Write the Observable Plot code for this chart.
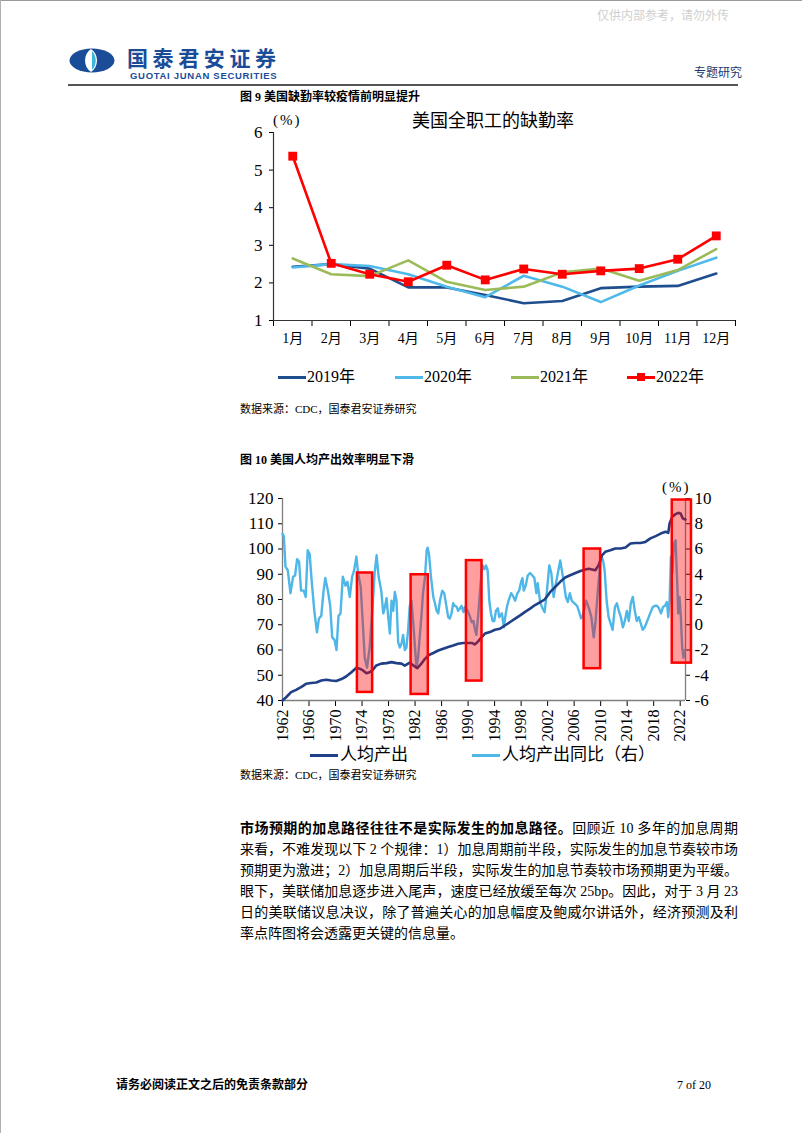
<!DOCTYPE html>
<html><head><meta charset="utf-8">
<script src="https://cdn.jsdelivr.net/npm/d3@7"></script>
<script src="https://cdn.jsdelivr.net/npm/@observablehq/plot@0.6"></script>
<style>
body{margin:0;background:#fff;}
#page{position:relative;width:802px;height:1133px;overflow:hidden;background:#fff;font-family:"Liberation Serif","Noto Sans CJK SC",serif;color:#000;}
.abs{position:absolute;white-space:nowrap;line-height:1;}
.cjk{font-family:"Liberation Serif","Noto Sans CJK SC",sans-serif;}
.sw{position:absolute;height:3px;}
.pl{position:absolute;left:240px;width:498px;font-size:14px;line-height:1;text-align:justify;text-align-last:justify;white-space:nowrap;}
#chart1,#chart2{position:absolute;left:0;}
#chart1{top:105px;} #chart2{top:480px;}
</style></head>
<body><div id="page">
<div style="position:absolute;left:0;top:0;width:802px;height:1px;background:#9a9a9a"></div>
<div style="position:absolute;left:0;top:0;width:1px;height:1133px;background:#b0b0b0"></div>
<div class="abs" style="left:597px;top:10px;font-size:12px;color:#cfcfcf;">仅供内部参考，请勿外传</div>
<svg style="position:absolute;left:69px;top:48px" width="46" height="25" viewBox="0 0 46 25">
  <ellipse cx="23" cy="12.5" rx="22.5" ry="12" fill="#1b4c98"/>
  <path d="M22 1 C 14 6, 14 19, 22 24 C 30 19, 30 6, 22 1 Z" fill="#fff"/>
  <path d="M23 3 C 28 8, 28 17, 23 22 Z" fill="#3fb4dc"/>
</svg>
<div class="abs" style="left:127px;top:47px;font-size:21px;font-weight:bold;color:#1b4c98;font-family:'Noto Sans CJK SC';letter-spacing:4.6px;">国泰君安证券</div>
<div class="abs" style="left:130px;top:71px;font-size:9.5px;font-weight:bold;color:#1b4c98;font-family:'Liberation Sans','DejaVu Sans';letter-spacing:0.7px;">GUOTAI JUNAN SECURITIES</div>
<div class="abs" style="left:694px;top:66px;font-size:12px;color:#1b3a6e;font-family:'Noto Sans CJK SC';">专题研究</div>
<div style="position:absolute;left:68px;top:84px;width:670px;height:2px;background:#555;"></div>
<div class="abs cjk" style="left:240px;top:91px;font-size:12px;font-weight:bold;">图 9 美国缺勤率较疫情前明显提升</div>
<div class="abs cjk" style="left:412px;top:112px;font-size:18px;">美国全职工的缺勤率</div>
<div class="abs" style="left:273px;top:113px;font-size:15px;letter-spacing:2px;">(%)</div>
<div id="chart1"></div>
<div id="legend1"></div>
<div class="abs cjk" style="left:240px;top:404px;font-size:11px;">数据来源：CDC，国泰君安证券研究</div>
<div class="abs cjk" style="left:240px;top:454px;font-size:12px;font-weight:bold;">图 10 美国人均产出效率明显下滑</div>
<div class="abs" style="left:662px;top:480px;font-size:15px;letter-spacing:2px;">(%)</div>
<div id="chart2"></div>
<div id="legend2"></div>
<div class="abs cjk" style="left:240px;top:770px;font-size:11px;">数据来源：CDC，国泰君安证券研究</div>
<div class="pl cjk" style="top:822px;"><b>市场预期的加息路径往往不是实际发生的加息路径。</b>回顾近 10 多年的加息周期</div>
<div class="pl cjk" style="top:843px;">来看，不难发现以下 2 个规律：1）加息周期前半段，实际发生的加息节奏较市场</div>
<div class="pl cjk" style="top:864px;">预期更为激进；2）加息周期后半段，实际发生的加息节奏较市场预期更为平缓。</div>
<div class="pl cjk" style="top:885px;">眼下，美联储加息逐步进入尾声，速度已经放缓至每次 25bp。因此，对于 3 月 23</div>
<div class="pl cjk" style="top:906px;">日的美联储议息决议，除了普遍关心的加息幅度及鲍威尔讲话外，经济预测及利</div>
<div class="pl cjk" style="top:927px;text-align-last:left;">率点阵图将会透露更关键的信息量。</div>
<div class="abs cjk" style="left:116px;top:1079px;font-size:12px;font-weight:bold;">请务必阅读正文之后的免责条款部分</div>
<div class="abs" style="left:677px;top:1079px;font-size:12px;">7 of 20</div>
</div>
<script>
// ---------- Chart 1 data ----------
const months = ["1月","2月","3月","4月","5月","6月","7月","8月","9月","10月","11月","12月"];
const seriesNames = ["2019年","2020年","2021年","2022年"];
const absence2019 = [2.43,2.50,2.38,1.88,1.88,1.68,1.46,1.52,1.86,1.90,1.92,2.25];
const absence2020 = [2.41,2.50,2.45,2.23,1.90,1.62,2.19,1.90,1.49,1.93,2.32,2.67];
const absence2021 = [2.65,2.23,2.18,2.60,2.03,1.81,1.90,2.28,2.38,2.06,2.34,2.90];
const absence2022 = [5.37,2.52,2.23,2.03,2.47,2.08,2.37,2.23,2.32,2.38,2.63,3.25];
const yTicks1 = [1,2,3,4,5,6];

// ---------- Chart 2 data ----------
const outputYears = [1962.0,1962.55,1963.3,1964.05,1964.8,1965.55,1966.3,1967.1,1967.85,1968.6,1969.35,1970.1,1970.9,1971.6,1972.4,1973.15,1973.65,1974.15,1974.65,1975.15,1975.65,1976.15,1976.9,1977.7,1978.45,1979.2,1979.95,1980.45,1981.2,1981.95,1982.35,1982.95,1983.5,1984.0,1984.75,1985.5,1986.25,1987.0,1987.75,1988.5,1989.3,1989.8,1990.55,1991.05,1991.55,1992.05,1992.55,1993.3,1994.05,1994.8,1995.6,1996.35,1997.1,1997.85,1998.6,1999.35,2000.1,2000.9,2001.55,2002.4,2003.15,2003.9,2004.65,2005.4,2006.2,2006.95,2007.7,2008.2,2008.7,2009.2,2009.7,2010.2,2010.7,2011.45,2012.2,2013.0,2013.75,2014.5,2015.25,2016.0,2016.75,2017.5,2018.3,2019.05,2019.8,2020.2,2020.4,2020.8,2021.3,2021.7,2022.05,2022.4,2022.8];
const outputValues = [40.0,41.3,43.3,44.2,45.3,46.6,46.9,47.1,47.9,48.2,47.9,47.7,48.5,49.5,51.2,53.0,52.6,51.9,50.8,51.2,52.2,53.9,54.6,54.8,55.2,54.8,54.6,53.8,55.0,53.5,52.8,54.6,56.5,57.9,58.8,59.8,60.5,61.2,61.8,62.5,62.8,62.8,62.8,62.2,63.5,65.1,66.5,67.1,68.0,68.4,69.8,71.1,72.4,73.7,75.1,76.4,77.8,79.0,80.0,83.0,85.0,87.0,88.7,89.6,90.5,91.3,91.9,92.2,91.9,91.6,93.6,97.5,98.9,99.5,100.2,100.2,100.6,102.2,102.4,102.4,102.8,104.2,105.1,106.1,106.8,106.4,110.1,112.8,113.8,114.3,114.1,112.1,111.7];
const yoyYears = [1962.0,1962.2,1962.45,1962.8,1963.2,1963.6,1963.9,1964.2,1964.5,1964.8,1965.2,1965.5,1965.8,1966.1,1966.4,1966.8,1967.2,1967.5,1967.85,1968.2,1968.45,1968.85,1969.2,1969.5,1969.85,1970.15,1970.45,1970.75,1971.1,1971.5,1971.8,1972.15,1972.5,1972.8,1973.15,1973.4,1973.8,1974.15,1974.4,1974.75,1975.15,1975.65,1975.9,1976.2,1976.5,1976.9,1977.2,1977.45,1977.7,1977.95,1978.2,1978.45,1978.7,1978.95,1979.2,1979.45,1979.7,1979.95,1980.2,1980.45,1980.7,1980.95,1981.2,1981.45,1981.7,1981.95,1982.2,1982.45,1982.7,1982.95,1983.2,1983.5,1983.75,1983.9,1984.1,1984.4,1984.75,1985.0,1985.25,1985.5,1985.75,1986.1,1986.4,1986.75,1987.0,1987.25,1987.5,1987.75,1988.0,1988.3,1988.5,1988.8,1989.0,1989.3,1989.5,1989.95,1990.3,1990.55,1990.8,1991.05,1991.25,1991.55,1991.8,1992.05,1992.2,1992.45,1992.7,1992.95,1993.2,1993.45,1993.7,1993.95,1994.2,1994.5,1994.7,1995.1,1995.4,1995.6,1995.85,1996.1,1996.5,1996.85,1997.1,1997.45,1997.7,1998.0,1998.2,1998.4,1998.7,1999.0,1999.35,1999.7,2000.0,2000.3,2000.5,2000.9,2001.25,2001.55,2001.9,2002.25,2002.55,2002.9,2003.15,2003.55,2003.9,2004.15,2004.4,2004.75,2005.05,2005.35,2005.65,2006.05,2006.45,2006.7,2007.05,2007.3,2007.8,2008.1,2008.35,2008.6,2008.95,2009.2,2009.5,2009.8,2010.05,2010.35,2010.6,2010.9,2011.2,2011.5,2011.8,2012.15,2012.45,2012.75,2013.05,2013.35,2013.65,2013.95,2014.25,2014.55,2014.85,2015.15,2015.45,2015.75,2016.05,2016.35,2016.65,2016.95,2017.25,2017.55,2017.85,2018.2,2018.5,2018.8,2019.1,2019.4,2019.7,2020.0,2020.2,2020.4,2020.6,2020.8,2021.05,2021.3,2021.55,2021.7,2021.9,2022.1,2022.3,2022.5,2022.7];
const yoyValues = [7.2,7.0,4.6,4.3,2.5,3.8,3.9,5.2,5.0,2.7,2.7,2.2,5.9,5.6,3.5,1.1,-0.6,0.5,0.7,2.7,3.7,2.7,1.5,-1.0,-1.2,-2.0,0.7,0.9,3.8,3.1,3.4,2.2,3.8,4.3,5.4,4.1,3.0,-0.2,-2.6,-3.4,-1.8,1.9,4.1,5.5,3.8,2.7,0.9,1.4,2.1,0.6,-0.7,1.9,1.1,2.6,1.9,-1.4,-1.8,-1.5,-0.8,-2.0,-1.8,-0.4,1.5,1.9,0.3,-1.5,-3.4,-2.6,-1.0,0.6,2.5,3.8,5.9,6.1,5.6,3.8,2.2,1.7,1.1,0.9,1.9,2.7,2.5,1.4,0.6,0.5,0.9,1.7,1.5,1.4,1.1,1.3,1.5,1.0,1.4,1.1,0.6,0.2,0.3,-0.4,-0.8,0.9,2.7,4.3,4.7,4.4,4.7,4.3,1.9,0.9,0.3,0.3,1.1,1.3,0.6,0.9,-0.2,0.6,1.4,1.9,2.5,2.2,1.9,2.5,2.7,3.4,3.7,2.7,3.1,3.9,4.1,3.9,3.7,2.5,3.3,1.7,1.3,1.0,2.7,4.7,4.1,2.2,3.0,4.1,5.1,4.3,3.5,2.2,1.8,2.5,1.9,1.7,1.5,1.1,0.5,0.7,1.9,1.5,1.1,0.6,-1.0,0.1,2.2,4.1,5.5,5.1,4.3,1.9,0.6,0.1,-0.4,1.4,1.7,1.1,0.6,-0.2,0.3,1.1,0.3,1.7,2.2,1.1,0.3,0.6,0.1,-0.4,-0.2,0.2,0.6,1.0,1.4,1.5,1.5,1.3,0.9,1.4,1.5,1.8,0.6,1.9,5.4,4.1,6.4,6.7,3.3,0.9,2.2,0.6,-1.8,-2.6,-2.0];
const highlightStart = [1973.3,1981.4,1989.75,2007.5,2020.8];
const highlightEnd   = [1975.6,1984.0,1992.1,2010.0,2023.7];
const highlightHigh  = [90.5,89.8,95.4,100.0,119.4];
const highlightLow   = [43.2,42.4,47.7,52.6,54.8];
const leftTicks = [40,50,60,70,80,90,100,110,120];
const rightTicks = [-6,-4,-2,0,2,4,6,8,10];
const yearTicks = [1962,1966,1970,1974,1978,1982,1986,1990,1994,1998,2002,2006,2010,2014,2018,2022];
const seriesNames2 = ["人均产出","人均产出同比（右）"];

// ---------- styles ----------
const colors1 = {"2019年":"#1f4e8f","2020年":"#4fb9ea","2021年":"#9bbb59","2022年":"#ff0000"};
const colors2 = ["#1f3f87","#4fb6e8"];

// Chart 1
const absenceAll = [absence2019, absence2020, absence2021, absence2022];
const lineMarks1 = seriesNames.map((name, k) =>
  Plot.line(absenceAll[k].map((v, i) => ({m: i + 1, v})), {x: "m", y: "v", stroke: colors1[name], strokeWidth: 2.6})
);
const chart1 = Plot.plot({
  width: 802, height: 250,
  marginLeft: 273, marginRight: 67, marginTop: 27, marginBottom: 35,
  x: {domain: [0.5, 12.5]},
  y: {domain: [1, 6]},
  style: {fontFamily: "Liberation Serif, 'Noto Sans CJK SC'", fontSize: "16px", color: "#000", background: "transparent", overflow: "visible"},
  marks: [
    Plot.axisY({ticks: yTicks1, tickSize: 4, tickPadding: 7, tickFormat: d => String(d), label: null, fontSize: 17}),
    Plot.axisX({ticks: d3.range(0.5, 12.6, 1), tickSize: 6, tickFormat: () => "", label: null}),
    Plot.axisX({ticks: d3.range(1, 13), tickSize: 0, tickPadding: 13, tickFormat: i => months[i - 1], label: null, fontSize: 14}),
    Plot.ruleX([0.5], {stroke: "#333", strokeWidth: 1.2}),
    Plot.ruleY([1], {stroke: "#333", strokeWidth: 1.2}),
    ...lineMarks1,
    Plot.dot(absence2022.map((v, i) => ({m: i + 1, v})), {x: "m", y: "v", symbol: "square", r: 5, fill: colors1["2022年"], stroke: "none"})
  ]
});
document.getElementById("chart1").appendChild(chart1);

// Legend 1
const leg1 = document.getElementById("legend1");
const leg1X = [278, 395, 511, 627];
seriesNames.forEach((name, k) => {
  const x = leg1X[k];
  const sw = document.createElement("div");
  sw.className = "sw"; sw.style.left = x + "px"; sw.style.top = "376px"; sw.style.width = "28px"; sw.style.background = colors1[name];
  leg1.appendChild(sw);
  if (name === "2022年") {
    const sq = document.createElement("div");
    sq.style.cssText = `position:absolute;left:${x + 10}px;top:373px;width:8px;height:8px;background:${colors1[name]}`;
    leg1.appendChild(sq);
  }
  const t = document.createElement("div");
  t.className = "abs cjk"; t.style.left = (x + 29) + "px"; t.style.top = "369px"; t.style.fontSize = "16px";
  t.textContent = name;
  leg1.appendChild(t);
});

// Chart 2
const toLeft = r => 40 + (r + 6) * 5; // right-axis % mapped onto left-axis units
const outputRows = outputYears.map((x, i) => ({x, v: outputValues[i]}));
const yoyRows = yoyYears.map((x, i) => ({x, v: toLeft(yoyValues[i])}));
const rectRows = highlightStart.map((s, i) => ({x1: s, x2: highlightEnd[i], y1: highlightLow[i], y2: highlightHigh[i]}));
const chart2 = Plot.plot({
  width: 802, height: 270,
  marginLeft: 282, marginRight: 117, marginTop: 18, marginBottom: 50,
  x: {domain: [1962, 2022.8]},
  y: {domain: [40, 120]},
  style: {fontFamily: "Liberation Serif", fontSize: "17px", color: "#000", background: "transparent", overflow: "visible"},
  marks: [
    Plot.axisY({ticks: leftTicks, tickSize: 4, tickPadding: 5, tickFormat: d => String(d), label: null}),
    Plot.axisY({anchor: "right", ticks: rightTicks.map(toLeft), tickSize: 4, tickPadding: 5, tickFormat: v => String(Math.round((v - 40) / 5 - 6)), label: null}),
    Plot.axisX({ticks: yearTicks, tickSize: 6, tickPadding: 3, tickRotate: -90, tickFormat: d => String(d), label: null, fontSize: 16}),
    Plot.ruleX([1962], {stroke: "#7f7f7f", strokeWidth: 1.3}),
    Plot.ruleX([2022.8], {stroke: "#7f7f7f", strokeWidth: 1.3}),
    Plot.ruleY([40], {stroke: "#7f7f7f", strokeWidth: 1.3}),
    Plot.line(yoyRows, {x: "x", y: "v", stroke: colors2[1], strokeWidth: 2.4}),
    Plot.line(outputRows, {x: "x", y: "v", stroke: colors2[0], strokeWidth: 2.6}),
    Plot.rect(rectRows, {x1: "x1", x2: "x2", y1: "y1", y2: "y2", fill: "#ff0000", fillOpacity: 0.38, stroke: "#ff0000", strokeWidth: 2.5})
  ]
});
document.getElementById("chart2").appendChild(chart2);

// Legend 2
const leg2 = document.getElementById("legend2");
const leg2X = [310, 472];
seriesNames2.forEach((name, k) => {
  const x = leg2X[k];
  const sw = document.createElement("div");
  sw.className = "sw"; sw.style.left = x + "px"; sw.style.top = "754px"; sw.style.width = "28px"; sw.style.background = colors2[k];
  leg2.appendChild(sw);
  const t = document.createElement("div");
  t.className = "abs cjk"; t.style.left = (x + 30) + "px"; t.style.top = "746px"; t.style.fontSize = "17px";
  t.textContent = name;
  leg2.appendChild(t);
});
</script>
</body></html>
